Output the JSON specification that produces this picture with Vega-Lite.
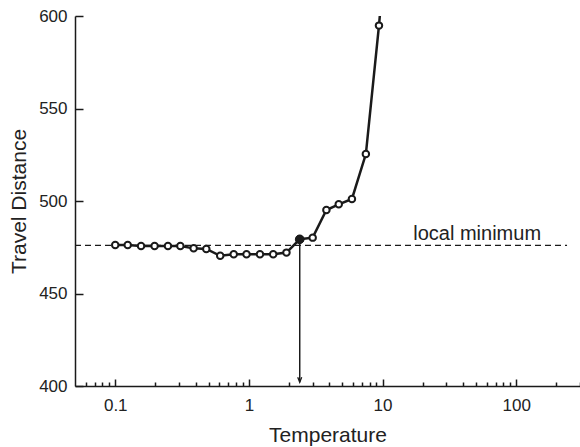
{
  "$schema": "https://vega.github.io/schema/vega-lite/v6.json",
  "width": 505,
  "height": 370,
  "autosize": {"type": "none"},
  "padding": {"left": 75, "top": 16, "right": 0, "bottom": 61},
  "config": {
    "view": {"stroke": null},
    "font": "Liberation Sans",
    "axis": {
      "grid": false,
      "domainColor": "#1a1a1a",
      "domainWidth": 1.5,
      "tickColor": "#1a1a1a",
      "tickWidth": 1.5,
      "labelFont": "Liberation Sans",
      "labelFontSize": 17,
      "labelColor": "#222222",
      "titleFont": "Liberation Sans",
      "titleFontSize": 21,
      "titleFontWeight": "normal",
      "titleColor": "#222222"
    }
  },
  "datasets": {
    "curve": [
      {"T": 0.1, "D": 476.2},
      {"T": 0.124, "D": 476.2},
      {"T": 0.156, "D": 475.7},
      {"T": 0.197, "D": 475.7},
      {"T": 0.248, "D": 475.7},
      {"T": 0.307, "D": 475.7},
      {"T": 0.386, "D": 474.4},
      {"T": 0.48, "D": 474.1},
      {"T": 0.61, "D": 470.4},
      {"T": 0.77, "D": 471.2},
      {"T": 0.96, "D": 471.2},
      {"T": 1.21, "D": 471.2},
      {"T": 1.52, "D": 471.2},
      {"T": 1.91, "D": 472.1},
      {"T": 2.4, "D": 479.3},
      {"T": 3.0, "D": 480.2},
      {"T": 3.8, "D": 495.1},
      {"T": 4.7, "D": 498.2},
      {"T": 5.9, "D": 501.1},
      {"T": 7.5, "D": 525.4},
      {"T": 9.4, "D": 594.8},
      {"T": 12.6, "D": 700}
    ],
    "minimum": [{"T": 2.4, "D": 479.3, "tip": 402}],
    "level": [{"T": 0.05, "T2": 240, "D": 476}],
    "note": [{"T": 51, "D": 478.9, "text": "local minimum"}]
  },
  "layer": [
    {
      "data": {"name": "level"},
      "mark": {"type": "rule", "strokeDash": [6, 4], "strokeWidth": 1.4, "color": "#1a1a1a"},
      "encoding": {
        "x": {
          "field": "T",
          "type": "quantitative",
          "scale": {"type": "log", "domain": [0.05, 300], "nice": false},
          "axis": {
            "title": "Temperature",
            "values": [0.06, 0.07, 0.08, 0.09, 0.1, 0.2, 0.3, 0.4, 0.5, 0.6, 0.7, 0.8, 0.9, 1, 2, 3, 4, 5, 6, 7, 8, 9, 10, 20, 30, 40, 50, 60, 70, 80, 90, 100, 200, 300],
            "tickSize": {"condition": {"test": "indexof([0.1, 1, 10, 100], datum.value) >= 0", "value": -7}, "value": -4},
            "labelExpr": "datum.value == 0.1 ? '0.1' : datum.value == 1 ? '1' : datum.value == 10 ? '10' : datum.value == 100 ? '100' : ''",
            "labelPadding": 18,
            "labelFlush": false,
            "labelOverlap": false,
            "titlePadding": 8
          }
        },
        "x2": {"field": "T2"},
        "y": {
          "field": "D",
          "type": "quantitative",
          "scale": {"domain": [400, 600], "nice": false, "zero": false},
          "axis": {
            "title": "Travel Distance",
            "values": [400, 450, 500, 550, 600],
            "tickSize": -8,
            "labelPadding": 16,
            "titlePadding": 9
          }
        }
      }
    },
    {
      "data": {"name": "minimum"},
      "mark": {"type": "rule", "strokeWidth": 1.5, "color": "#1a1a1a"},
      "encoding": {
        "x": {"field": "T", "type": "quantitative"},
        "y": {"field": "D", "type": "quantitative"},
        "y2": {"field": "tip"}
      }
    },
    {
      "data": {"name": "minimum"},
      "mark": {"type": "point", "shape": "M-0.4,-1L0,0L0.4,-1", "filled": false, "stroke": "#1a1a1a", "strokeWidth": 1.3, "size": 100, "opacity": 1},
      "encoding": {
        "x": {"field": "T", "type": "quantitative"},
        "y": {"field": "tip", "type": "quantitative"}
      }
    },
    {
      "data": {"name": "curve"},
      "mark": {"type": "line", "color": "#1a1a1a", "strokeWidth": 2.5, "clip": true},
      "encoding": {
        "x": {"field": "T", "type": "quantitative"},
        "y": {"field": "D", "type": "quantitative"}
      }
    },
    {
      "data": {"name": "curve"},
      "mark": {"type": "point", "filled": true, "fill": "white", "stroke": "#1a1a1a", "strokeWidth": 2, "size": 42, "opacity": 1, "clip": true},
      "encoding": {
        "x": {"field": "T", "type": "quantitative"},
        "y": {"field": "D", "type": "quantitative"}
      }
    },
    {
      "data": {"name": "minimum"},
      "mark": {"type": "point", "filled": true, "fill": "#1a1a1a", "stroke": "#1a1a1a", "strokeWidth": 1, "size": 75, "opacity": 1},
      "encoding": {
        "x": {"field": "T", "type": "quantitative"},
        "y": {"field": "D", "type": "quantitative"}
      }
    },
    {
      "data": {"name": "note"},
      "mark": {"type": "text", "font": "Liberation Sans", "fontSize": 20, "color": "#222222", "align": "center", "baseline": "alphabetic"},
      "encoding": {
        "x": {"field": "T", "type": "quantitative"},
        "y": {"field": "D", "type": "quantitative"},
        "text": {"field": "text"}
      }
    }
  ]
}
